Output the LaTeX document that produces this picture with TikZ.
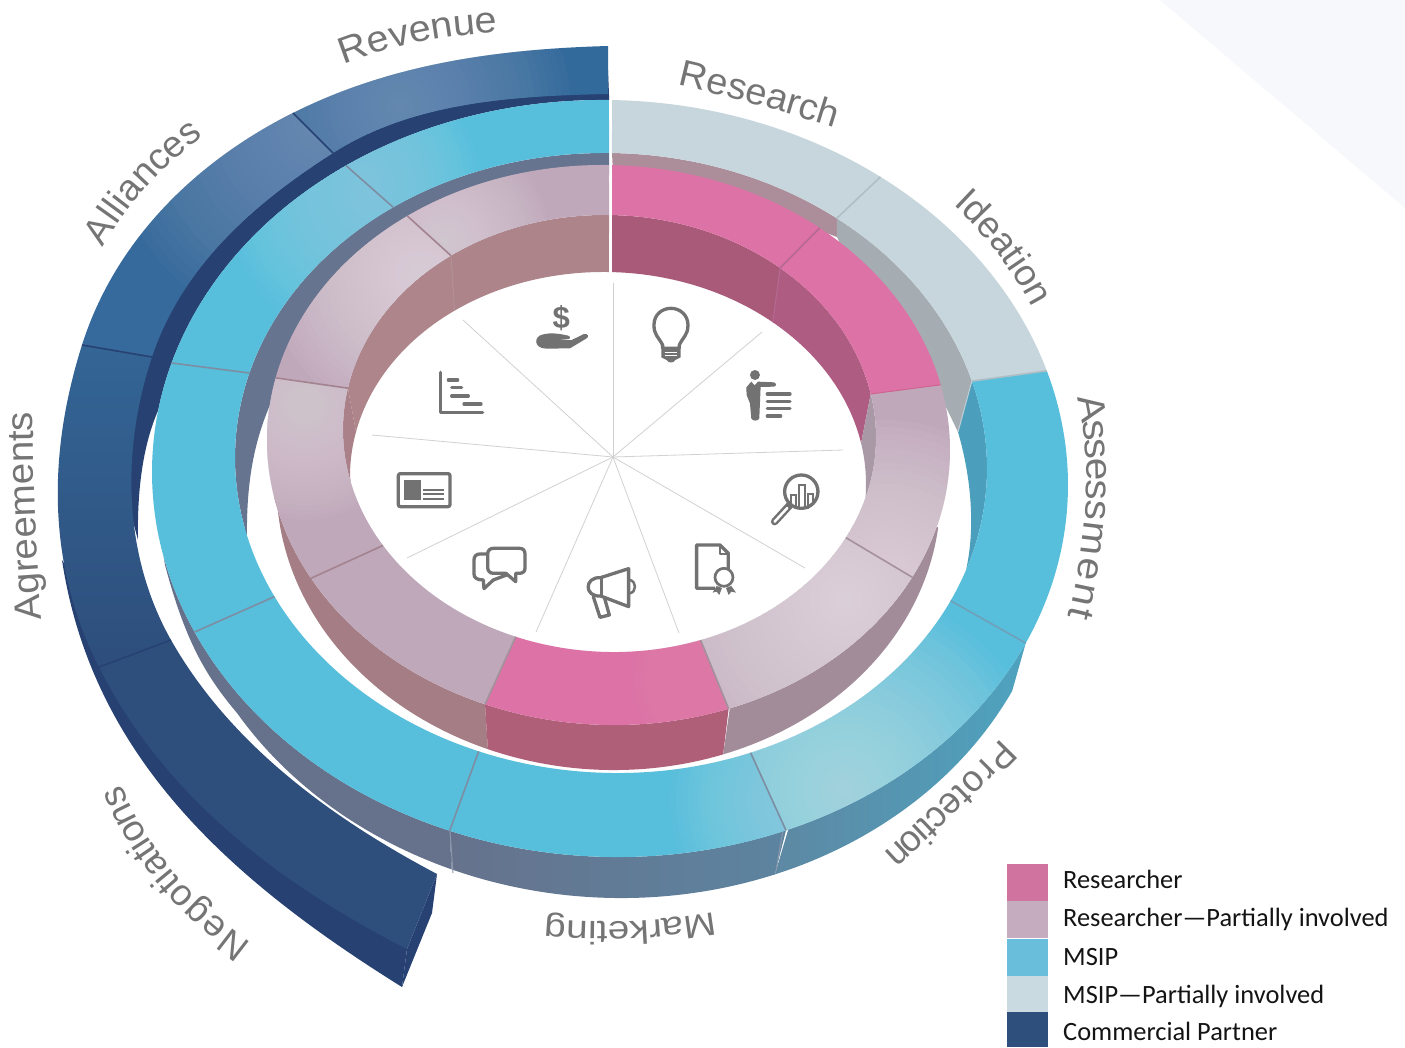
\documentclass[tikz,border=0pt]{standalone}
\usepackage{fontspec}
\usepackage{graphicx}
\newfontfamily\lblfam{Liberation Sans}
\newfontfamily\legfam{Carlito}
\newcommand\lbl{\lblfam\fontsize{37}{37}\selectfont}
\definecolor{lblgray}{HTML}{757575}
\definecolor{icogray}{HTML}{727272}
\definecolor{pinkS}{HTML}{DC72A5}
\definecolor{partS}{HTML}{C0A8BB}
\definecolor{cyanS}{HTML}{57BEDC}
\definecolor{lightS}{HTML}{C6D6DC}
\definecolor{blueS}{HTML}{2E4E7C}
\definecolor{blueW}{HTML}{274272}
\definecolor{cornerTint}{HTML}{F7F8FB}
\newcommand\defhex[1]{\definecolor{HTML#1}{HTML}{#1}}
\defhex{336595}\defhex{376A9C}\defhex{7F99C0}\defhex{336A9C}\defhex{66748F}\defhex{AB8E99}\defhex{A5ADB2}\defhex{4B9FBC}\defhex{C0CFD4}\defhex{66728C}\defhex{5C84A0}\defhex{5D88A3}\defhex{4EA3BF}\defhex{97D5E8}\defhex{A2D8E9}\defhex{C2E3EC}\defhex{7D8EA2}\defhex{6FA0B8}\defhex{B0BFC6}\defhex{A47D85}\defhex{B05F79}\defhex{A38C9A}\defhex{AC848A}\defhex{AD858B}\defhex{AA8189}\defhex{A85A78}\defhex{AE5C82}\defhex{A998A5}\defhex{EAE2E7}\defhex{ECE5EA}\defhex{E689B8}\defhex{DFD4DC}\defhex{E8E0E6}\defhex{E2D8E0}\defhex{A3838F}\defhex{B56A92}\defhex{A5919C}\defhex{A3919C}\defhex{D0628F}\defhex{D0749F}\defhex{C5ADBF}\defhex{69BEDB}\defhex{C9DBE1}\defhex{2E4E7C}\defhex{8A98AB}\defhex{B39096}
% ring edges: sheared ellipses (cx,cy,rx,ry), angle clockwise on the page
\newcommand\earc[6]{plot[domain=#5:#6,samples=48] ({#1+#3*cos(\x)},{#2+#4*sin(\x)+0.014*#3*cos(\x)})}
\newcommand\earcL[6]{-- plot[domain=#5:#6,samples=48] ({#1+#3*cos(\x)},{#2+#4*sin(\x)+0.014*#3*cos(\x)})}
\newcommand\ept[5]{({#1+#3*cos(#5)},{#2+#4*sin(#5)+0.014*#3*cos(#5)})}
\newcommand\eptL[5]{-- ({#1+#3*cos(#5)},{#2+#4*sin(#5)+0.014*#3*cos(#5)})}
\newcommand\MO[2]{\earc{610}{478.5}{458}{378.5}{#1}{#2}}
\newcommand\MI[2]{\earc{611}{463}{376}{310}{#1}{#2}}
\newcommand\MIl[2]{\earcL{611}{463}{376}{310}{#1}{#2}}
\newcommand\MWl[2]{\earcL{614}{519.5}{443}{378.5}{#1}{#2}}
\newcommand\IO[2]{\earc{608.5}{445}{341.5}{280}{#1}{#2}}
\newcommand\II[2]{\earc{609.5}{433.5}{266.5}{218.5}{#1}{#2}}
\newcommand\IIl[2]{\earcL{609.5}{433.5}{266.5}{218.5}{#1}{#2}}
\newcommand\IWl[2]{\earcL{608.5}{490}{332}{280}{#1}{#2}}
\newcommand\FLl[2]{\earcL{608}{480}{258}{208}{#1}{#2}}
\newcommand\MOp[1]{\ept{610}{478.5}{458}{378.5}{#1}}
\newcommand\MIp[1]{\ept{611}{463}{376}{310}{#1}}
\newcommand\MIt[1]{\eptL{611}{463}{376}{310}{#1}}
\newcommand\IOp[1]{\ept{608.5}{445}{341.5}{280}{#1}}
\newcommand\IIp[1]{\ept{609.5}{433.5}{266.5}{218.5}{#1}}
\newcommand\IIt[1]{\eptL{609.5}{433.5}{266.5}{218.5}{#1}}
\newcommand\FLt[1]{\eptL{608}{480}{258}{208}{#1}}
\newcommand\rseg[4]{\path[#1] #2 #3 -- cycle;\begin{scope}\clip #2 #3 -- cycle; #4\end{scope}}
\newcommand\blob[4]{\foreach \k in {1,...,24}{\fill[#4,opacity=0.055] (#1,#2) circle[radius=#3*\k/24];}}
\newcommand\ringlabel[7]{\foreach \ch/\p in {#7}{\path #1 .. controls #2 and #3 .. #4 node[lettr,pos=\p,name=rl\ch] {\scalebox{#5}[#6]{\ch}};}}
\tikzset{
  ico/.style={draw=icogray,line width=3.3pt,line join=round,line cap=round,fill=none},
  icofill/.style={fill=icogray,draw=none},
  spoke/.style={draw=black!18,line width=0.8pt},
  legtext/.style={anchor=base west,inner sep=0pt,text=black!92,font=\legfam\fontsize{26.4}{26.4}\selectfont},
  seamB/.style={draw=#1,line width=1.6pt},
  seamW/.style={draw=#1,line width=1pt},
  lettr/.style={sloped,allow upside down,anchor=base,inner sep=0pt,text=lblgray,font=\lbl},
}
\begin{document}
\begin{tikzpicture}[x=1pt,y=-1pt]
\useasboundingbox (0,0) rectangle (1405,1047);
\fill[white] (0,0) rectangle (1405,1047);
\fill[cornerTint] (1160,0) -- (1405,0) -- (1405,208) -- cycle;

% ---- outer (blue) ring walls
\path[fill=blueW] \MO{269.9}{189.4} .. controls (143,445) and (137,490) .. (138,540) -- (100,400) -- (200,200) -- (330,130) -- (608,70) -- cycle;
\path[fill=blueW] (62,560) .. controls (92,758) and (232,881) .. (402,987) -- (407,949) -- (150,700) -- cycle;
\path[fill=blueW] (407,949) -- (437,874) -- (432,913) -- (402,987) -- cycle;

% ---- blue top surfaces
\rseg{fill=blueS}{(99,667) .. controls (164,796) and (278,883) .. (407,949)}{-- (437,874) .. controls (331,818) and (230,744) .. (171,640)}{}
\rseg{top color=HTML336595,bottom color=blueS}{(82,345) .. controls (47.5,454) and (47,565) .. (99,667)}{-- (171,640) .. controls (123,555) and (121,450) .. (152,357)}{}
\rseg{fill=HTML376A9C}{(293,113) .. controls (195,162) and (115,241) .. (82,345)}{-- (152,357) .. controls (182,267) and (253,204) .. (333,153)}{\blob{320}{125}{210}{HTML7F99C0}}
\rseg{fill=HTML336A9C}{(608,46) .. controls (498,49) and (391,64) .. (293,113)}{-- (333,153) .. controls (413,102) and (513,96) .. (608,94)}{\blob{400}{105}{170}{HTML7F99C0}}
\draw[seamB=blueW] (293,113) -- (333,153);
\draw[seamB=blueW] (82,345) -- (152,357);
\draw[seamB=blueW] (99,667) -- (171,640);

% ---- middle ring walls
\path[fill=HTML66748F] \MI{167}{269.7} -- (609,175) -- (408,230) -- (290,370) -- (270,405) .. controls (255,440) and (246,480) .. (247,540) -- cycle;
\path[fill=HTMLAB8E99] \MI{270.15}{306.9} -- (837,237) -- (727,195) -- (613,172) -- cycle;
\path[fill=HTMLA5ADB2] \MI{306.9}{343.7} -- (958,432) -- (945,405) -- (915,345) -- (860,285) -- (837,237) -- cycle;
\path[fill=HTML4B9FBC] \MI{343.7}{379.2} .. controls (975,530) and (972,480) .. (958,432) -- cycle;
\draw[seamW=HTMLC0CFD4] \MIp{343.7} -- (958,432);
\path[fill=HTML66728C] \MO{110.5}{167} -- (165,565) .. controls (185,640) and (205,675) .. (237,713) \MWl{148.3}{111.5} -- cycle;
\path[left color=HTML66728C,right color=HTML5C84A0] \MO{67.4}{110.5} \MWl{111.5}{68.7} -- cycle;
\path[left color=HTML5D88A3,right color=HTML4EA3BF] \MO{24.8}{67.1} \MWl{68.7}{26} -- cycle;
\draw[seamW=HTML8A98AB] (450,831) -- (453,873);
\draw[seamW=HTML8A98AB] (783,830) -- (776,871);

% ---- middle ring top surfaces
\rseg{fill=cyanS}{\MO{594.8}{629.87}}{\MIl{629.7}{594.6}}{\blob{360}{185}{120}{HTML97D5E8}}
\rseg{fill=cyanS}{\MO{556.8}{594.8}}{\MIl{594.6}{555.9}}{\blob{375}{195}{150}{HTML97D5E8}}
\rseg{fill=cyanS}{\MO{515.1}{556.8}}{\MIl{555.9}{513.5}}{}
\rseg{fill=cyanS}{\MO{470.5}{515.1}}{\MIl{513.5}{470.6}}{}
\rseg{fill=cyanS}{\MO{427.4}{470.5}}{\MIl{470.6}{428.2}}{\blob{810}{800}{140}{HTMLA2D8E9}}
\rseg{fill=cyanS}{\MO{384.8}{427.4}}{\MIl{428.2}{385.4}}{\blob{845}{790}{200}{HTMLC2E3EC}}
\rseg{fill=cyanS}{\MO{342.5}{384.8}}{\MIl{385.4}{343.7}}{}
\rseg{fill=lightS}{\MO{306.2}{342.5}}{\MIl{343.7}{306.9}}{}
\rseg{fill=lightS}{\MO{270.25}{306.2}}{\MIl{306.9}{270.15}}{}
\draw[seamB=HTML7D8EA2] \MOp{594.8} \MIt{594.6};
\draw[seamB=HTML7D8EA2] \MOp{556.8} \MIt{555.9};
\draw[seamB=HTML7D8EA2] \MOp{515.1} \MIt{513.5};
\draw[seamB=HTML7D8EA2] \MOp{470.5} \MIt{470.6};
\draw[seamB=HTML7D8EA2] \MOp{427.4} \MIt{428.2};
\draw[seamB=HTML6FA0B8] \MOp{384.8} \MIt{385.4};
\draw[seamB=HTMLB0BFC6] \MOp{306.2} \MIt{306.9};
\draw[seamB=HTMLB0BFC6] \MOp{342.5} \MIt{343.7};

% ---- inner ring outer walls
\path[fill=HTMLA47D85] \IO{111.2}{168.4} \IWl{177}{111.3} -- cycle;
\path[fill=HTMLB05F79] \IO{69.4}{111.2} \IWl{111.3}{69.8} -- cycle;
\path[fill=HTMLA38C9A] \IO{16}{69.2} \IWl{69.8}{6.7} -- cycle;

% ---- inner ring inner walls
\path[fill=HTMLAC848A] \II{593.5}{629.9} \FLl{630.2}{593.5} -- cycle;
\path[fill=HTMLAD858B] \II{551}{593.5} \FLl{593.5}{552.4} -- cycle;
\path[fill=HTMLAA8189] \II{526}{551} \FLl{552.4}{540} -- cycle;
\path[fill=HTMLA85A78] \II{270.54}{309.8} \FLl{309.7}{270.9} -- cycle;
\path[fill=HTMLAE5C82] \II{309.8}{348.6} \FLl{348.8}{309.7} -- cycle;
\path[fill=HTMLA998A5] \II{348.6}{376} \FLl{360}{348.8} -- cycle;
\draw[seamW=HTMLB39096] \IIp{593.5} \FLt{593.5};
\draw[seamW=HTMLB56A92] \IIp{309.8} \FLt{309.7};

% ---- inner ring top surfaces
\rseg{fill=pinkS}{\IO{270.6}{308.2}}{\IIl{309.8}{270.54}}{}
\rseg{fill=pinkS}{\IO{308.2}{346.6}}{\IIl{348.6}{309.8}}{}
\rseg{fill=partS}{\IO{346.6}{387.2}}{\IIl{387.5}{348.6}}{\blob{885}{590}{170}{HTMLEAE2E7}}
\rseg{fill=partS}{\IO{387.2}{429.4}}{\IIl{430}{387.5}}{\blob{845}{600}{210}{HTMLECE5EA}}
\rseg{fill=pinkS}{\IO{429.4}{471.2}}{\IIl{470.6}{430}}{\blob{720}{680}{90}{HTMLE689B8}}
\rseg{fill=partS}{\IO{471.2}{510.6}}{\IIl{508.2}{470.6}}{}
\rseg{fill=partS}{\IO{510.6}{552.9}}{\IIl{551}{508.2}}{\blob{305}{405}{115}{HTMLDFD4DC}}
\rseg{fill=partS}{\IO{552.9}{593.9}}{\IIl{593.5}{551}}{\blob{420}{275}{150}{HTMLE8E0E6}}
\rseg{fill=partS}{\IO{593.9}{630.08}}{\IIl{629.9}{593.5}}{\blob{445}{240}{105}{HTMLE2D8E0}}
\draw[seamB=HTMLA3838F] \IOp{552.9} \IIt{551};
\draw[seamB=HTMLA3838F] \IOp{593.9} \IIt{593.5};
\draw[seamB=HTMLA3838F] \IOp{510.6} \IIt{508.2};
\draw[seamB=HTMLB56A92] \IOp{308.2} \IIt{309.8};
\draw[seamB=HTMLA5919C] \IOp{387.2} \IIt{387.5};
\draw[seamB=HTMLA3919C] \IOp{471.2} \IIt{470.6};
\draw[seamB=HTMLA3919C] \IOp{429.4} \IIt{430};
\draw[seamW=HTMLD0628F] \IOp{346.6} \IIt{348.6};

% ---- spokes
\coordinate (hub) at (613,457);
\foreach \e in {(613,283),(762,332),(843,450),(805,568),(679,633),(536,632),(407,558),(372,435),(463,320)}
  \draw[spoke] (hub) -- \e;

% ---- icons, in units of a third of a pixel
\begin{scope}[shift={(350pt,-280pt)},x=0.3333pt,y=-0.3333pt]
  % bulb
  \draw[ico] (938,205) -- (938,195) .. controls (925,170) and (912,165) .. (912,135) .. controls (912,105) and (935,85) .. (963,85) .. controls (990,85) and (1014,105) .. (1014,135) .. controls (1014,165) and (1000,170) .. (988,195) -- (988,205) -- cycle;
  \fill[icofill] (934,205) -- (992,205) -- (992,232) -- (976,240) .. controls (972,250) and (954,250) .. (950,240) -- (934,232) -- cycle;
  \draw[white,line width=0.8pt] (944,216) -- (982,216) (944,226) -- (982,226);
  % presenter
  \fill[icofill] (1215,285) circle[radius=15];
  \fill[icofill] (1189,322) -- (1204,305) -- (1214,316) -- (1224,305) -- (1272,307) .. controls (1280,310) and (1280,318) .. (1272,320) -- (1232,321) -- (1228,415) .. controls (1226,424) and (1206,424) .. (1204,415) -- (1200,370) -- (1190,345) -- cycle;
  \draw[ico] (1252,342) -- (1320,342) (1252,364) -- (1320,364) (1252,386) -- (1320,386) (1252,408) -- (1292,408);
  % magnifier
  \draw[ico] (1354,635) circle[radius=50];
  \draw[ico,line width=7.5pt,line cap=round] (1318,677) -- (1274,725);
  \draw[white,line width=2.5pt,line cap=round] (1312,684) -- (1274,725);
  \draw[draw=icogray,line width=1.8pt] (1322,684) -- (1322,645) -- (1337,645) -- (1337,688) (1346,688) -- (1346,615) -- (1364,615) -- (1364,688) (1373,688) -- (1373,642) -- (1388,642) -- (1388,675);
  % certificate
  \draw[ico,line cap=butt] (1095,925) -- (1040,925) -- (1040,795) -- (1110,795) -- (1135,820) -- (1135,868);
  \draw[ico,line width=2.5pt] (1110,795) -- (1110,822) -- (1135,822);
  \draw[ico,line width=2.7pt] (1122,892) circle[radius=27];
  \fill[icofill] (1100,918) -- (1088,938) -- (1100,935) -- (1108,945) -- (1116,924) -- cycle;
  \fill[icofill] (1128,924) -- (1136,945) -- (1144,935) -- (1158,938) -- (1144,918) -- cycle;
  % megaphone
  \draw[ico] (752,893) -- (836,866) -- (836,980) -- (752,948) .. controls (702,952) and (702,890) .. (752,893) -- cycle;
  \draw[ico] (755,893) -- (755,948);
  \draw[ico] (730,950) -- (750,1012) -- (778,1005) -- (764,955);
  \draw[ico,line width=2.5pt] (840,900) .. controls (860,905) and (860,935) .. (840,940);
  % chat bubbles
  \draw[ico] (430,805) -- (508,805) .. controls (520,805) and (525,812) .. (525,822) -- (525,865) .. controls (525,875) and (518,880) .. (508,880) -- (497,880) -- (497,905) -- (468,880) -- (430,880) .. controls (420,880) and (413,873) .. (413,862) -- (413,822) .. controls (413,812) and (420,805) .. (430,805) -- cycle;
  \draw[ico] (412,822) -- (390,822) .. controls (378,822) and (372,830) .. (372,840) -- (372,882) .. controls (372,893) and (380,900) .. (400,900) -- (402,926) -- (430,900) -- (470,885);
  % id card
  \draw[ico,rounded corners=2pt] (145,581) rectangle (300,680);
  \fill[icofill] (163,600) rectangle (213,660);
  \draw[draw=icogray,line width=1.7pt] (220,630) -- (282,630) (220,643) -- (282,643) (220,656) -- (282,656);
  % bars
  \draw[ico] (272,277) -- (272,397) -- (398,397);
  \draw[ico] (295,300) -- (323,300) (305,323) -- (335,323) (305,348) -- (355,348) (342,372) -- (393,372);
  % hand
  \node[text=icogray,inner sep=0pt,font=\lblfam\bfseries\fontsize{31}{31}\selectfont] (dollar) at (634,113) {\$};
  \fill[icofill] (580,163) .. controls (600,158) and (625,160) .. (655,167) .. controls (665,172) and (660,178) .. (650,178) -- (625,180) -- (665,180) -- (702,162) .. controls (714,160) and (718,170) .. (710,175) -- (660,205) -- (590,206) .. controls (550,206) and (550,168) .. (580,163) -- cycle;
\end{scope}

% ---- ring labels, one glyph at a time along each baseline curve
\ringlabel{(678,85)}{(731,97.3)}{(783.3,111.7)}{(835,128)}{1.03}{1}{R/.084,e/.234,s/.357,e/.480,a/.610,r/.714,c/.812,h/.935}
\ringlabel{(953,205)}{(985.3,234.7)}{(1011.7,269)}{(1032,308)}{1}{1}{I/.039,d/.156,e/.313,a/.469,t/.586,i/.656,o/.766,n/.922}
\ringlabel{(1078,400)}{(1092,460.7)}{(1088.7,533.3)}{(1068,618)}{1.1}{1}{A/.061,s/.168,s/.260,e/.357,s/.454,s/.546,m/.668,e/.796,n/.898,t/.974}
\ringlabel{(1003,737)}{(958.3,782.7)}{(919,821)}{(885,852)}{.98}{1}{P/.074,r/.185,o/.284,t/.377,e/.469,c/.586,t/.673,i/.728,o/.815,n/.938}
\ringlabel{(715,912)}{(658.3,921.7)}{(601.7,924)}{(545,919)}{1.05}{.88}{M/.095,a/.253,r/.354,k/.449,e/.569,t/.664,i/.721,n/.810,g/.937}
\ringlabel{(253,945)}{(188.7,898.3)}{(145,845)}{(122,785)}{1}{1}{N/.065,e/.180,g/.280,o/.380,t/.455,i/.500,a/.570,t/.645,i/.690,o/.760,n/.860,s/.955}
\ringlabel{(42,620)}{(35.7,549.3)}{(32.7,480)}{(33,412)}{1.04}{1}{A/.062,g/.175,r/.258,e/.340,e/.443,m/.572,e/.701,n/.804,t/.881,s/.954}
\ringlabel{(102,248)}{(129.7,202.3)}{(163.3,165)}{(203,137)}{1.01}{1}{A/.083,l/.194,l/.250,i/.305,a/.403,n/.542,c/.674,e/.806,s/.938}
\ringlabel{(343,65)}{(394.3,45)}{(445.7,34.3)}{(497,33)}{1.07}{1}{R/.090,e/.250,v/.382,e/.514,n/.653,u/.792,e/.931}

% ---- legend
\fill[HTMLD0749F] (1007,864) rectangle (1048,901);
\fill[HTMLC5ADBF] (1007,901) rectangle (1048,938);
\fill[HTML69BEDB] (1007,939) rectangle (1048,976);
\fill[HTMLC9DBE1] (1007,976) rectangle (1048,1012);
\fill[HTML2E4E7C] (1007,1012) rectangle (1048,1047);
\node[legtext] (l1) at (1063,888) {Researcher};
\node[legtext] (l2) at (1063,926) {Researcher—Partially involved};
\node[legtext] (l3) at (1063,965) {MSIP};
\node[legtext] (l4) at (1063,1003) {MSIP—Partially involved};
\node[legtext] (l5) at (1063,1040) {Commercial Partner};
\end{tikzpicture}
\end{document}
